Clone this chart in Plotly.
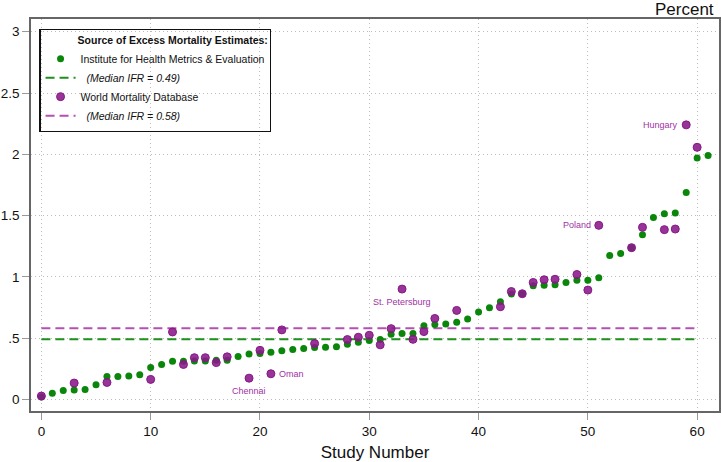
import plotly.graph_objects as go

# ---- data ----
ihme_study = list(range(0, 62))
ihme_ifr = [0.02, 0.05, 0.073, 0.076, 0.081, 0.12, 0.187, 0.187, 0.19, 0.20,
            0.26, 0.285, 0.31, 0.31, 0.314, 0.314, 0.32, 0.32, 0.35, 0.37,
            0.374, 0.385, 0.396, 0.406, 0.415, 0.423, 0.425, 0.43, 0.45, 0.466,
            0.48, 0.488, 0.531, 0.537, 0.537, 0.60, 0.61, 0.615, 0.63, 0.656,
            0.713, 0.748, 0.797, 0.859, 0.862, 0.927, 0.932, 0.935, 0.954, 0.973,
            0.973, 0.992, 1.173, 1.19, 1.238, 1.344, 1.485, 1.515, 1.52, 1.689,
            1.97, 1.99]

wmd_study = [0, 3, 6, 10, 12, 13, 14, 15, 16, 17, 19, 20, 21, 22, 25, 28, 29, 30,
             31, 32, 33, 34, 35, 36, 38, 42, 43, 44, 45, 46, 47, 49, 50, 51, 54,
             55, 57, 58, 59, 60]
wmd_ifr = [0.027, 0.133, 0.138, 0.163, 0.55, 0.285, 0.34, 0.34, 0.30, 0.347,
           0.173, 0.40, 0.209, 0.567, 0.455, 0.488, 0.507, 0.523, 0.445, 0.577,
           0.90, 0.49, 0.553, 0.66, 0.726, 0.756, 0.88, 0.862, 0.954, 0.976,
           0.98, 1.019, 0.892, 1.42, 1.238, 1.404, 1.385, 1.39, 2.24, 2.057]

median_ihme = 0.49
median_wmd = 0.58
median_span = [0, 60]

labels = ["Hungary", "Poland", "St. Petersburg", "Oman", "Chennai"]
label_study = [59, 51, 33, 21, 19]

y_tickvals = [0, 0.5, 1, 1.5, 2, 2.5, 3]
y_ticktext = ["0", ".5", "1", "1.5", "2", "2.5", "3"]
x_tickvals = [0, 10, 20, 30, 40, 50, 60]

# ---- style ----
FONT = "Arial, 'Liberation Sans', sans-serif"
GREEN = "#0a870a"
GREEN_LINE = "#1e901e"
PURPLE = "#861886"
PURPLE_LINE = "#b450b4"
PURPLE_TXT = "#a031a5"

fig = go.Figure()

fig.add_trace(go.Scatter(
    x=median_span, y=[median_ihme] * 2, mode="lines",
    line=dict(color=GREEN_LINE, width=2, dash="9px,5px"),
    name="\u00a0\u00a0<i>(Median IFR = 0.49)</i>", legendrank=2))
fig.add_trace(go.Scatter(
    x=median_span, y=[median_wmd] * 2, mode="lines",
    line=dict(color=PURPLE_LINE, width=2, dash="9px,5px"),
    name="\u00a0\u00a0<i>(Median IFR = 0.58)</i>", legendrank=4))
fig.add_trace(go.Scatter(
    x=ihme_study, y=ihme_ifr, mode="markers",
    marker=dict(color=GREEN, size=7, line=dict(width=0)),
    name="Institute for Health Metrics & Evaluation", legendrank=1))
fig.add_trace(go.Scatter(
    x=wmd_study, y=wmd_ifr, mode="markers",
    marker=dict(color="rgba(138,24,138,0.88)", size=8,
                line=dict(color=PURPLE, width=1)),
    name="World Mortality Database", legendrank=3))

wmd_map = dict(zip(wmd_study, wmd_ifr))
for lab, s in zip(labels, label_study):
    yv = wmd_map[s]
    if lab in ("Hungary", "Poland"):
        kw = dict(xanchor="right", yanchor="middle", xshift=-6)
    elif lab == "Oman":
        kw = dict(xanchor="left", yanchor="middle", xshift=6)
    else:
        kw = dict(xanchor="center", yanchor="top", yshift=-6)
    fig.add_annotation(x=s, y=yv, text=lab, showarrow=False,
                       font=dict(family=FONT, size=9, color=PURPLE_TXT), **kw)

fig.add_annotation(xref="paper", yref="paper", x=1, y=1, xanchor="right",
                   yanchor="bottom", xshift=-3, yshift=-2, text="Percent",
                   showarrow=False, font=dict(family=FONT, size=17, color="#111"))

fig.update_layout(
    width=722, height=462,
    margin=dict(l=31, r=1, t=19, b=51),
    paper_bgcolor="white", plot_bgcolor="white",
    font=dict(family=FONT, color="#111"),
    showlegend=True,
    legend=dict(
        x=0.012, y=0.974, xanchor="left", yanchor="top",
        bgcolor="rgba(0,0,0,0)", bordercolor="#111", borderwidth=1.3,
        font=dict(family=FONT, size=10.5, color="#111"),
        title=dict(text="\u00a0" * 12 + "<b>Source of Excess Mortality Estimates:</b>",
                   font=dict(family=FONT, size=10.5, color="#111")),
        traceorder="normal", tracegroupgap=0, itemwidth=30,
    ),
    xaxis=dict(
        range=[-0.95, 62.0], tickvals=x_tickvals, ticks="outside", ticklen=7,
        tickcolor="#999", tickfont=dict(size=13.5, color="#111"),
        showgrid=True, gridcolor="#bdbdbd", griddash="1px,3px", gridwidth=1,
        showline=True, linecolor="#666", linewidth=1.5, mirror=True,
        zeroline=False,
        title=dict(text="Study Number", font=dict(size=17, color="#111"), standoff=8),
    ),
    yaxis=dict(
        range=[-0.095, 3.104], tickvals=y_tickvals, ticktext=y_ticktext,
        ticks="outside", ticklen=7, tickcolor="#999",
        tickfont=dict(size=13.5, color="#111"),
        showgrid=True, gridcolor="#bdbdbd", griddash="1px,3px", gridwidth=1,
        showline=True, linecolor="#666", linewidth=1.5, mirror=True,
        zeroline=False,
    ),
)

fig.write_html("out.html",
               config={"displayModeBar": False},
               post_script="document.body.style.margin='0';"
                           "document.body.style.overflow='hidden';")
